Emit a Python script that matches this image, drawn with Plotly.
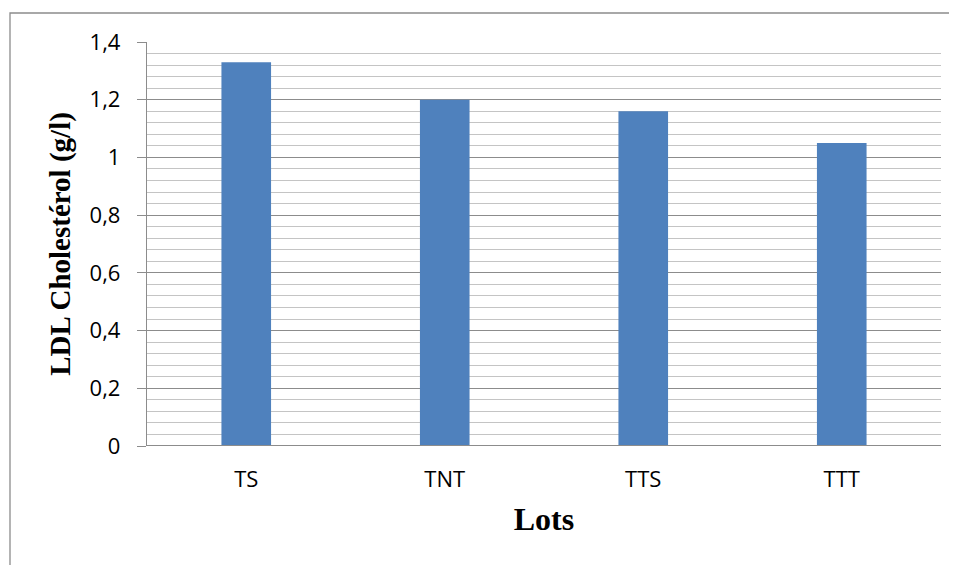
import plotly.graph_objects as go

categories = ["TS", "TNT", "TTS", "TTT"]
ldl_values = [1.33, 1.20, 1.16, 1.05]
y_tick_vals = [0, 0.2, 0.4, 0.6, 0.8, 1.0, 1.2, 1.4]
y_tick_text = ["0", "0,2", "0,4", "0,6", "0,8", "1", "1,2", "1,4"]

PLOT_W, PLOT_H = 794, 404
L, T = 139, 34

fig = go.Figure()
fig.add_trace(go.Bar(x=categories, y=ldl_values, marker=dict(color="#4F81BD", line=dict(width=0)), width=0.25))

fig.update_layout(
    width=949, height=557,
    margin=dict(l=L, r=16, t=T, b=119),
    paper_bgcolor="white", plot_bgcolor="white",
    showlegend=False,
    bargap=0.75,
    xaxis=dict(
        showgrid=False, showline=False, zeroline=False,
        ticks="", ticklabelstandoff=18,
        tickfont=dict(family="Open Sans, Liberation Sans, sans-serif", size=22, color="black"),
        title=dict(text="<b>Lots</b>", font=dict(family="Liberation Serif, Times New Roman, serif", size=32, color="black"), standoff=15),
    ),
    yaxis=dict(
        range=[0, 1.4], tickvals=y_tick_vals, ticktext=y_tick_text,
        showgrid=True, gridcolor="#8c8c8c", gridwidth=1.3,
        minor=dict(dtick=0.04, showgrid=True, gridcolor="#c4c4c4", gridwidth=1),
        showline=True, linecolor="#8c8c8c", linewidth=1.3,
        ticks="outside", ticklen=9, tickcolor="#8c8c8c", tickwidth=1.3,
        ticklabelstandoff=12,
        zeroline=False,
        tickfont=dict(family="Open Sans, Liberation Sans, sans-serif", size=22, color="black"),
        title=dict(text="<b>LDL Cholestérol (g/l)</b>", font=dict(family="Liberation Serif, Times New Roman, serif", size=29, color="black"), standoff=10),
    ),
)

fig.add_shape(type="line", xref="paper", yref="y", x0=0, x1=1, y0=0, y1=0, line=dict(color="#8c8c8c", width=2))
fig.add_shape(type="rect", xref="paper", yref="paper",
              x0=(2 - L) / PLOT_W, x1=1 + 40 / PLOT_W, y0=-200 / PLOT_H, y1=1 + (T - 5) / PLOT_H,
              line=dict(color="#8c8c8c", width=1.3), fillcolor="rgba(0,0,0,0)")

fig.write_html("out.html")
